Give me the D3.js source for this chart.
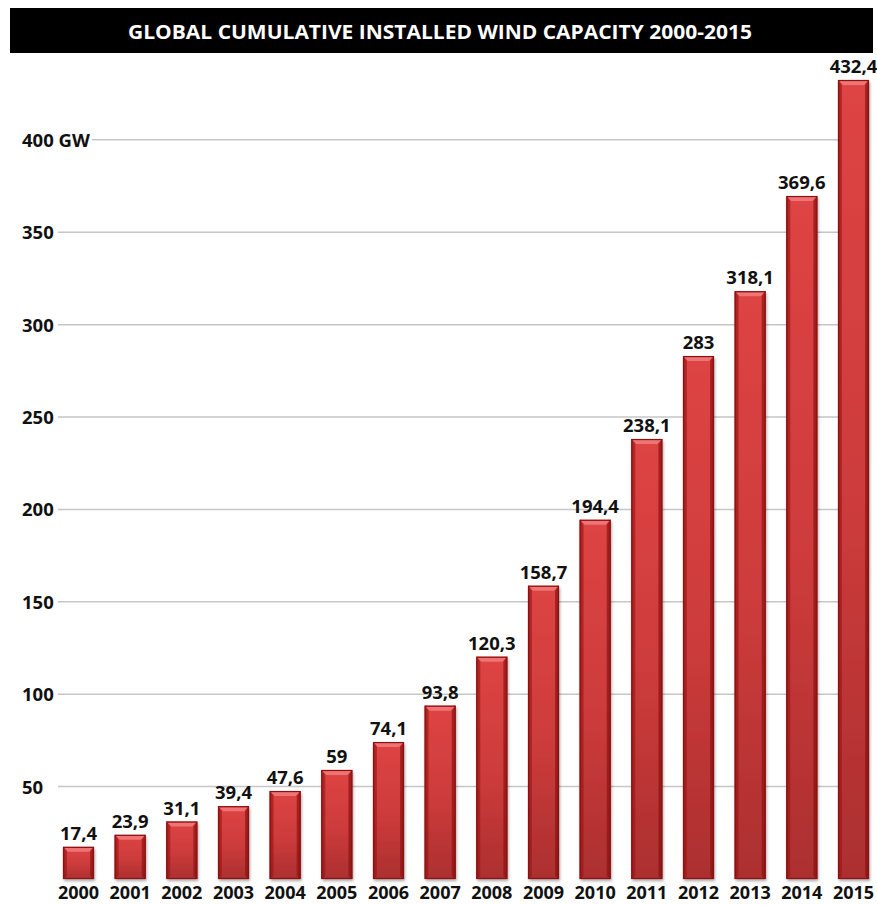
<!DOCTYPE html>
<html>
<head>
<meta charset="utf-8">
<script src="https://cdn.jsdelivr.net/npm/d3@7"></script>
<style>
  html, body { margin: 0; padding: 0; background: #fff; }
  svg { display: block; }
  text { font-family: "Open Sans", "DejaVu Sans", sans-serif; font-weight: 700; }
</style>
</head>
<body>
<script>
// Global cumulative installed wind capacity, GW
const years = ["2000", "2001", "2002", "2003", "2004", "2005", "2006", "2007",
               "2008", "2009", "2010", "2011", "2012", "2013", "2014", "2015"];
const capacity = [17.4, 23.9, 31.1, 39.4, 47.6, 59, 74.1, 93.8,
                  120.3, 158.7, 194.4, 238.1, 283, 318.1, 369.6, 432.4];
const yTicks = [50, 100, 150, 200, 250, 300, 350, 400];
const yTickLabels = ["50", "100", "150", "200", "250", "300", "350", "400 GW"];
const title = "GLOBAL CUMULATIVE INSTALLED WIND CAPACITY 2000-2015";

const W = 877, H = 905;
const svg = d3.select("body").append("svg").attr("width", W).attr("height", H);

const x = d3.scalePoint().domain(years).range([78.5, 853.5]);
const y = d3.scaleLinear().domain([0, 432.4]).range([879, 80]);
const barW = 31;

// gradients and shadow for the bevelled bars
const defs = svg.append("defs");
const vGrad = defs.append("linearGradient").attr("id", "barFill")
  .attr("x1", 0).attr("y1", 0).attr("x2", 0).attr("y2", 1);
vGrad.append("stop").attr("offset", "0%").attr("stop-color", "#de4444");
vGrad.append("stop").attr("offset", "55%").attr("stop-color", "#cc3b3b");
vGrad.append("stop").attr("offset", "100%").attr("stop-color", "#ac2f2f");

const hGrad = defs.append("linearGradient").attr("id", "barEdge")
  .attr("x1", 0).attr("y1", 0).attr("x2", 1).attr("y2", 0);
hGrad.append("stop").attr("offset", "0%").attr("stop-color", "#7a0505").attr("stop-opacity", 0.55);
hGrad.append("stop").attr("offset", "12%").attr("stop-color", "#7a0505").attr("stop-opacity", 0.0);
hGrad.append("stop").attr("offset", "88%").attr("stop-color", "#7a0505").attr("stop-opacity", 0.0);
hGrad.append("stop").attr("offset", "100%").attr("stop-color", "#7a0505").attr("stop-opacity", 0.55);

const shadow = defs.append("filter").attr("id", "barShadow")
  .attr("x", "-30%").attr("y", "-5%").attr("width", "160%").attr("height", "115%");
shadow.append("feDropShadow").attr("dx", 1).attr("dy", 2).attr("stdDeviation", 1.6)
  .attr("flood-color", "#000").attr("flood-opacity", 0.35);

// title band
svg.append("rect").attr("x", 10).attr("y", 8).attr("width", 863).attr("height", 45).attr("fill", "#000");
svg.append("text").attr("x", 440).attr("y", 39).attr("text-anchor", "middle")
  .attr("fill", "#fff").attr("font-size", 19)
  .attr("textLength", 624).attr("lengthAdjust", "spacingAndGlyphs")
  .text(title);

// horizontal gridlines
const grid = svg.append("g");
grid.selectAll("line").data(yTicks).join("line")
  .attr("x1", 58).attr("x2", 869)
  .attr("y1", d => y(d)).attr("y2", d => y(d))
  .attr("stroke", "#c6c6c6").attr("stroke-width", 1.5);

// y tick labels
const yl = svg.append("g");
yTicks.forEach((t, i) => {
  const g = yl.append("g");
  const txt = g.append("text").attr("x", 22).attr("y", y(t) + 7)
    .attr("font-size", 18.5).attr("fill", "#111").text(yTickLabels[i]);
  const bb = txt.node().getBBox();
  if (bb.x + bb.width > 58) {
    g.insert("rect", "text").attr("x", bb.x - 2).attr("y", y(t) - 4)
      .attr("width", bb.width + 4).attr("height", 8).attr("fill", "#fff");
  }
});

// bars
const bars = svg.append("g").selectAll("g").data(capacity).join("g")
  .attr("transform", (d, i) => `translate(${x(years[i]) - barW / 2},${y(d)})`);

bars.append("rect")
  .attr("width", barW).attr("height", d => y(0) - y(d))
  .attr("fill", "url(#barFill)").attr("filter", "url(#barShadow)");
bars.append("rect")
  .attr("width", barW).attr("height", d => y(0) - y(d))
  .attr("fill", "url(#barEdge)");
// top bevel highlight
bars.append("path")
  .attr("d", `M1,1 L${barW - 1},1 L${barW - 5},5 L5,5 Z`)
  .attr("fill", "#f07a7a").attr("opacity", 0.9);
// side bevels
bars.append("path")
  .attr("d", d => `M1,1 L4,5 L4,${y(0) - y(d) - 3} L1,${y(0) - y(d) - 1} Z`)
  .attr("fill", "#9c1515").attr("opacity", 0.55);
bars.append("path")
  .attr("d", d => `M${barW - 1},1 L${barW - 4},5 L${barW - 4},${y(0) - y(d) - 3} L${barW - 1},${y(0) - y(d) - 1} Z`)
  .attr("fill", "#8a1010").attr("opacity", 0.6);
bars.append("rect")
  .attr("x", 0.5).attr("y", 0.5)
  .attr("width", barW - 1).attr("height", d => y(0) - y(d) - 1)
  .attr("fill", "none").attr("stroke", "#8e0f0f").attr("stroke-width", 1.2);

// value labels above bars
svg.append("g").selectAll("text").data(capacity).join("text")
  .attr("x", (d, i) => x(years[i]))
  .attr("y", d => y(d) - 7)
  .attr("text-anchor", "middle").attr("font-size", 18.5).attr("fill", "#111")
  .text(d => String(d).replace(".", ","));

// year labels
svg.append("g").selectAll("text").data(years).join("text")
  .attr("x", d => x(d)).attr("y", 899)
  .attr("text-anchor", "middle").attr("font-size", 18).attr("fill", "#111")
  .text(d => d);
</script>
</body>
</html>
